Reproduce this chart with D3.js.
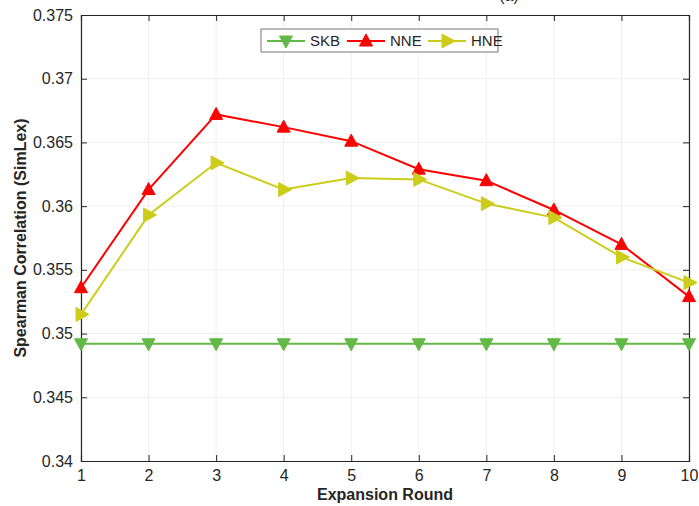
<!DOCTYPE html>
<html>
<head>
<meta charset="utf-8">
<style>
    body { margin: 0; background: #fff; }
    svg { font-family: 'Liberation Sans', Arial, sans-serif; }
</style>
</head>
<body>
<svg width="699" height="506"></svg>
<script src="https://d3js.org/d3.v7.min.js"></script>
<script>
    // values
    let rounds = [1, 2, 3, 4, 5, 6, 7, 8, 9, 10]
    let skb = [0.3492, 0.3492, 0.3492, 0.3492, 0.3492, 0.3492, 0.3492, 0.3492, 0.3492, 0.3492]
    let nne = [0.3536, 0.3613, 0.3672, 0.3662, 0.3651, 0.3629, 0.3620, 0.3597, 0.3570, 0.3529]
    let hne = [0.3515, 0.3593, 0.3634, 0.3613, 0.3622, 0.3621, 0.3602, 0.3591, 0.3560, 0.3540]
    let yTicks = [0.34, 0.345, 0.35, 0.355, 0.36, 0.365, 0.37, 0.375]
    let yTickLabels = ["0.34", "0.345", "0.35", "0.355", "0.36", "0.365", "0.37", "0.375"]

    let series = [
        { name: "SKB", values: skb, color: "#63b946", marker: "down" },
        { name: "NNE", values: nne, color: "#ff0000", marker: "up" },
        { name: "HNE", values: hne, color: "#cccc1a", marker: "right" }
    ]

    let plotLeft = 81, plotRight = 689, plotTop = 15, plotBottom = 461

    let svg = d3.select("svg")

    let x = d3.scaleLinear().domain([1, 10]).range([plotLeft, plotRight])
    let y = d3.scaleLinear().domain([0.34, 0.375]).range([plotBottom, plotTop])

    // grid
    svg.append("g")
        .selectAll("line")
        .data(rounds)
        .join("line")
        .attr("x1", d => x(d)).attr("x2", d => x(d))
        .attr("y1", plotTop).attr("y2", plotBottom)
        .style("stroke", "#efefef")
    svg.append("g")
        .selectAll("line")
        .data(yTicks)
        .join("line")
        .attr("x1", plotLeft).attr("x2", plotRight)
        .attr("y1", d => y(d)).attr("y2", d => y(d))
        .style("stroke", "#efefef")

    // axes (ticks pointing inward, box on)
    let axisColor = "#262626"
    let xAxis = svg.append("g")
        .attr("transform", `translate(0,${plotBottom})`)
        .call(d3.axisBottom(x).tickValues(rounds).tickSize(-6).tickPadding(9).tickFormat(d3.format("d")))
    let xTop = svg.append("g")
        .attr("transform", `translate(0,${plotTop})`)
        .call(d3.axisTop(x).tickValues(rounds).tickSize(-6).tickFormat(""))
    let yAxis = svg.append("g")
        .attr("transform", `translate(${plotLeft},0)`)
        .call(d3.axisLeft(y).tickValues(yTicks).tickSize(-6).tickPadding(8)
            .tickFormat((d, i) => yTickLabels[i]))
    let yRight = svg.append("g")
        .attr("transform", `translate(${plotRight},0)`)
        .call(d3.axisRight(y).tickValues(yTicks).tickSize(-6).tickFormat(""))

    ;[xAxis, xTop, yAxis, yRight].forEach(g => {
        g.select(".domain").style("stroke", axisColor).style("stroke-width", 1.2)
        g.selectAll(".tick line").style("stroke", axisColor)
        g.selectAll("text")
            .style("font-size", "16px")
            .style("fill", "#262626")
            .style("font-family", "'Liberation Sans', Arial, sans-serif")
    })

    // axis labels
    svg.append("text")
        .attr("x", (plotLeft + plotRight) / 2)
        .attr("y", 500)
        .attr("text-anchor", "middle")
        .style("font-size", "16px")
        .style("font-weight", "bold")
        .style("fill", "#262626")
        .text("Expansion Round")

    svg.append("text")
        .attr("transform", `translate(26,${(plotTop + plotBottom) / 2}) rotate(-90)`)
        .attr("text-anchor", "middle")
        .style("font-size", "16px")
        .style("font-weight", "bold")
        .style("fill", "#262626")
        .text("Spearman Correlation (SimLex)")

    // title, mostly cut off at the top of the picture
    svg.append("text")
        .attr("x", 509)
        .attr("y", 1)
        .attr("text-anchor", "middle")
        .style("font-size", "16px")
        .style("fill", "#262626")
        .text("(a)")

    let markerPath = {
        up: "M0,-7L6.5,5L-6.5,5Z",
        down: "M0,7L6.5,-5L-6.5,-5Z",
        right: "M8,0L-5,-7L-5,7Z"
    }

    let line = d3.line()
        .x((d, i) => x(rounds[i]))
        .y(d => y(d))

    series.forEach(s => {
        svg.append("path")
            .attr("d", line(s.values))
            .style("fill", "none")
            .style("stroke", s.color)
            .style("stroke-width", 2)

        svg.append("g")
            .selectAll("path")
            .data(s.values)
            .join("path")
            .attr("transform", (d, i) => `translate(${x(rounds[i])},${y(d)})`)
            .attr("d", markerPath[s.marker])
            .style("fill", s.color)
            .style("stroke", s.color)
            .style("stroke-width", 1)
    })

    // legend
    let legend = svg.append("g")
    legend.append("rect")
        .attr("x", 261).attr("y", 29)
        .attr("width", 237).attr("height", 23)
        .style("fill", "#fff")
        .style("stroke", "#777")
        .style("stroke-width", 1)

    let legendX = [267, 347, 428]
    series.forEach((s, i) => {
        let g = legend.append("g").attr("transform", `translate(${legendX[i]},41)`)
        g.append("line")
            .attr("x1", 0).attr("x2", 38)
            .style("stroke", s.color)
            .style("stroke-width", 2)
        g.append("path")
            .attr("transform", "translate(19,0)")
            .attr("d", markerPath[s.marker])
            .style("fill", s.color)
            .style("stroke", s.color)
        g.append("text")
            .attr("x", 43)
            .attr("y", 5)
            .style("font-size", "15px")
            .style("fill", "#262626")
            .text(s.name)
    })
</script>
</body>
</html>
